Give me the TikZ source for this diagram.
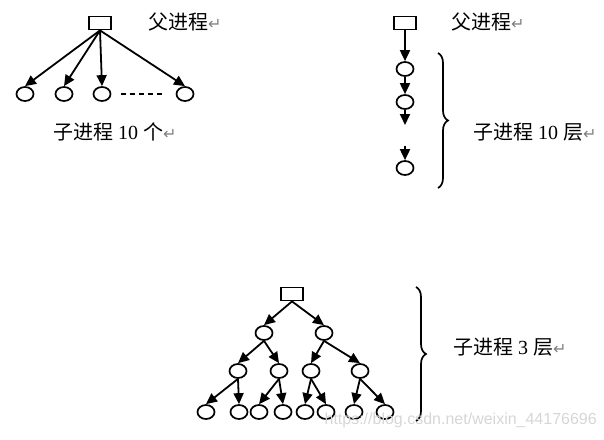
\documentclass[tikz,border=0pt]{standalone}
\usepackage{fontspec}
\setmainfont{Liberation Serif}
\newfontfamily\cjk{Noto Sans CJK SC}
\newfontfamily\symf{DejaVu Sans}
\newfontfamily\wmfont{Liberation Sans}
\usetikzlibrary{shapes.geometric,arrows.meta,decorations.pathreplacing}
\newcommand{\retmark}{{\symf\color{gray}\fontsize{16}{16}\selectfont ↵}}
\begin{document}
\begin{tikzpicture}[x=1pt,y=-1pt,
  proc/.style={draw,line width=1.8pt,minimum width=22pt,minimum height=13pt,inner sep=0pt},
  child/.style={draw,ellipse,line width=1.7pt,minimum width=17pt,minimum height=14pt,inner sep=0pt},
  arr/.style={line width=1.8pt,-{Triangle[length=11pt,width=10pt]}},
  lbl/.style={inner sep=0pt,anchor=west,font=\fontsize{20}{23}\selectfont},
  brc/.style={line width=1.7pt,decorate,decoration={brace,amplitude=10pt}}]
\useasboundingbox (0,0) rectangle (604,439);
% ---- top left: 10 children
\node[proc] (p1) at (100,23) {};
\node[child] (a1) at (25,94) {};
\node[child] (a2) at (64,94) {};
\node[child] (a3) at (102,94) {};
\node[child] (a4) at (185,94) {};
\draw[arr] (p1.south) -- (a1.north);
\draw[arr] (p1.south) -- (a2.north);
\draw[arr] (p1.south) -- (a3.north);
\draw[arr] (p1.south) -- (a4.north);
\draw[line width=1.6pt,dash pattern=on 5pt off 4pt] (a3.east) ++(10,0) coordinate (d1) -- (163,94) coordinate (d2);
\node[lbl] (t1) at (148,22) {{\cjk 父进程}\retmark};
\node[lbl] (t2) at (53,132) {{\cjk 子进程} 10 {\cjk 个}\retmark};
% ---- top right: 10 levels
\node[proc] (p2) at (405,23) {};
\node[child] (b1) at (405,69) {};
\node[child] (b2) at (405,102) {};
\coordinate (b3) at (405,125);
\coordinate (b4) at (405,146);
\node[child] (b5) at (405,168) {};
\draw[arr] (p2.south) -- (b1.north);
\draw[arr] (b1.south) -- (b2.north);
\draw[arr] (b2.south) -- (b3);
\draw[arr] (b4) -- (b5.north);
\coordinate (br1t) at (438,53);
\coordinate (br1b) at (438,188);
\draw[brc] (br1t) -- (br1b);
\node[lbl] (t3) at (451,22) {{\cjk 父进程}\retmark};
\node[lbl] (t4) at (473,132) {{\cjk 子进程} 10 {\cjk 层}\retmark};
% ---- bottom: binary tree of 3 levels
\node[proc] (r) at (292,294) {};
\node[child] (l1) at (264,333) {};
\node[child] (l2) at (324,333) {};
\node[child] (m1) at (238,371) {};
\node[child] (m2) at (279,371) {};
\node[child] (m3) at (311,371) {};
\node[child] (m4) at (360,371) {};
\node[child] (n1) at (206,412) {};
\node[child] (n2) at (239,412) {};
\node[child] (n3) at (259,412) {};
\node[child] (n4) at (283,412) {};
\node[child] (n5) at (305,412) {};
\node[child] (n6) at (326,412) {};
\node[child] (n7) at (354,412) {};
\node[child] (n8) at (385,412) {};
\draw[arr] (r.south) -- (l1.north);
\draw[arr] (r.south) -- (l2.north);
\draw[arr] (l1.south) -- (m1.north);
\draw[arr] (l1.south) -- (m2.north);
\draw[arr] (l2.south) -- (m3.north);
\draw[arr] (l2.south) -- (m4.north);
\draw[arr] (m1.south) -- (n1.north);
\draw[arr] (m1.south) -- (n2.north);
\draw[arr] (m2.south) -- (n3.north);
\draw[arr] (m2.south) -- (n4.north);
\draw[arr] (m3.south) -- (n5.north);
\draw[arr] (m3.south) -- (n6.north);
\draw[arr] (m4.south) -- (n7.north);
\draw[arr] (m4.south) -- (n8.north);
\coordinate (br2t) at (416,287);
\coordinate (br2b) at (416,421);
\draw[brc] (br2t) -- (br2b);
\node[lbl] (t5) at (453,347) {{\cjk 子进程} 3 {\cjk 层}\retmark};
% watermark
\node[inner sep=0pt,anchor=east,text=black!16,font=\wmfont\fontsize{16}{16}\selectfont] (wm) at (597,420) {https://blog.csdn.net/weixin\_44176696};
\end{tikzpicture}
\end{document}
